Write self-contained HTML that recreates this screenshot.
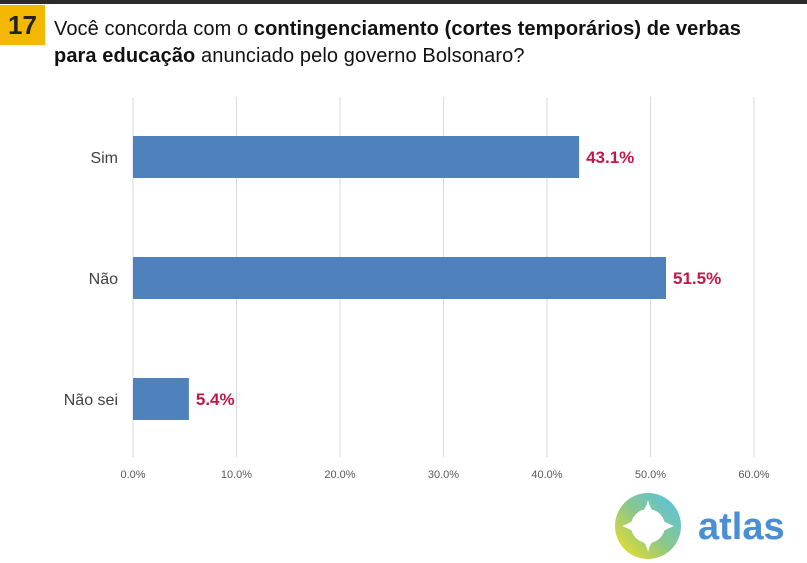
<!DOCTYPE html>
<html><head><meta charset="utf-8"><style>
body{margin:0;width:807px;height:563px;background:#fff;overflow:hidden;position:relative;font-family:"Liberation Sans",sans-serif}
.abs{position:absolute}
</style></head><body>
<div class="abs" style="left:0;top:0;width:807px;height:4px;background:#2b2b2b"></div>
<div class="abs" style="left:0;top:5px;width:45px;height:40px;background:#f5b800;color:#222;font-weight:bold;font-size:26px;line-height:40px;text-align:center">17</div>
<div class="abs" style="left:54px;top:16px;width:700px;font-size:20px;letter-spacing:0.1px;line-height:27px;color:#111">Você concorda com o <b>contingenciamento (cortes temporários) de verbas para educação</b> anunciado pelo governo Bolsonaro?</div>
<svg class="abs" style="left:0;top:0" width="807" height="563">
<g id="g"></g>
<g>
<defs><linearGradient id="lg" x1="1" y1="0" x2="0" y2="1"><stop offset="0" stop-color="#4fc3f0"/><stop offset="0.5" stop-color="#8cc68a"/><stop offset="1" stop-color="#f7e21c"/></linearGradient></defs>
<circle cx="648" cy="526" r="33" fill="url(#lg)"/>
<path d="M648 500 Q652 518 674 526 Q652 534 648 552 Q644 534 622 526 Q644 518 648 500Z" fill="#fff"/>
<circle cx="648" cy="526" r="17" fill="#fff"/>
<text x="698" y="539" font-size="38" font-weight="bold" fill="#4a8fd3" font-family="Liberation Sans, sans-serif">atlas</text>
</g>
</svg>
<script>
const categories=["Sim","Não","Não sei"];
const values=[43.1,51.5,5.4];
const ticks=[0,10,20,30,40,50,60];
const x0=133,x1=754,maxV=60,plotTop=97,plotBot=457;
const xs=v=>x0+(v/maxV)*(x1-x0);
const ys=i=>136+i*121;
const g=document.getElementById('g');
const NS='http://www.w3.org/2000/svg';
function mk(t,a){const e=document.createElementNS(NS,t);for(const k in a)e.setAttribute(k,a[k]);g.appendChild(e);return e;}
ticks.forEach(t=>{
 const l=mk('line',{x1:xs(t),x2:xs(t),y1:plotTop,y2:plotBot,stroke:'#d9d9d9','stroke-width':1});
 
 
 const tx=mk('text',{x:xs(t),y:478,'text-anchor':'middle','font-size':11,fill:'#595959'});
 tx.textContent=t.toFixed(1)+'%';
 
 
});
categories.forEach((c,i)=>{
 const y=ys(i);
 const r=mk('rect',{x:x0,y:y,width:xs(values[i])-x0,height:42,fill:'#4f81bd'});
 
 
 const lb=mk('text',{x:118,y:y+27,'text-anchor':'end','font-size':16,fill:'#404040'});
 lb.textContent=c;
 
 
 const v=mk('text',{x:xs(values[i])+7,y:y+27,'font-size':17,'font-weight':'bold',fill:'#c0184a'});
 v.textContent=values[i].toFixed(1)+'%';
 
 
});
</script>
</body></html>
